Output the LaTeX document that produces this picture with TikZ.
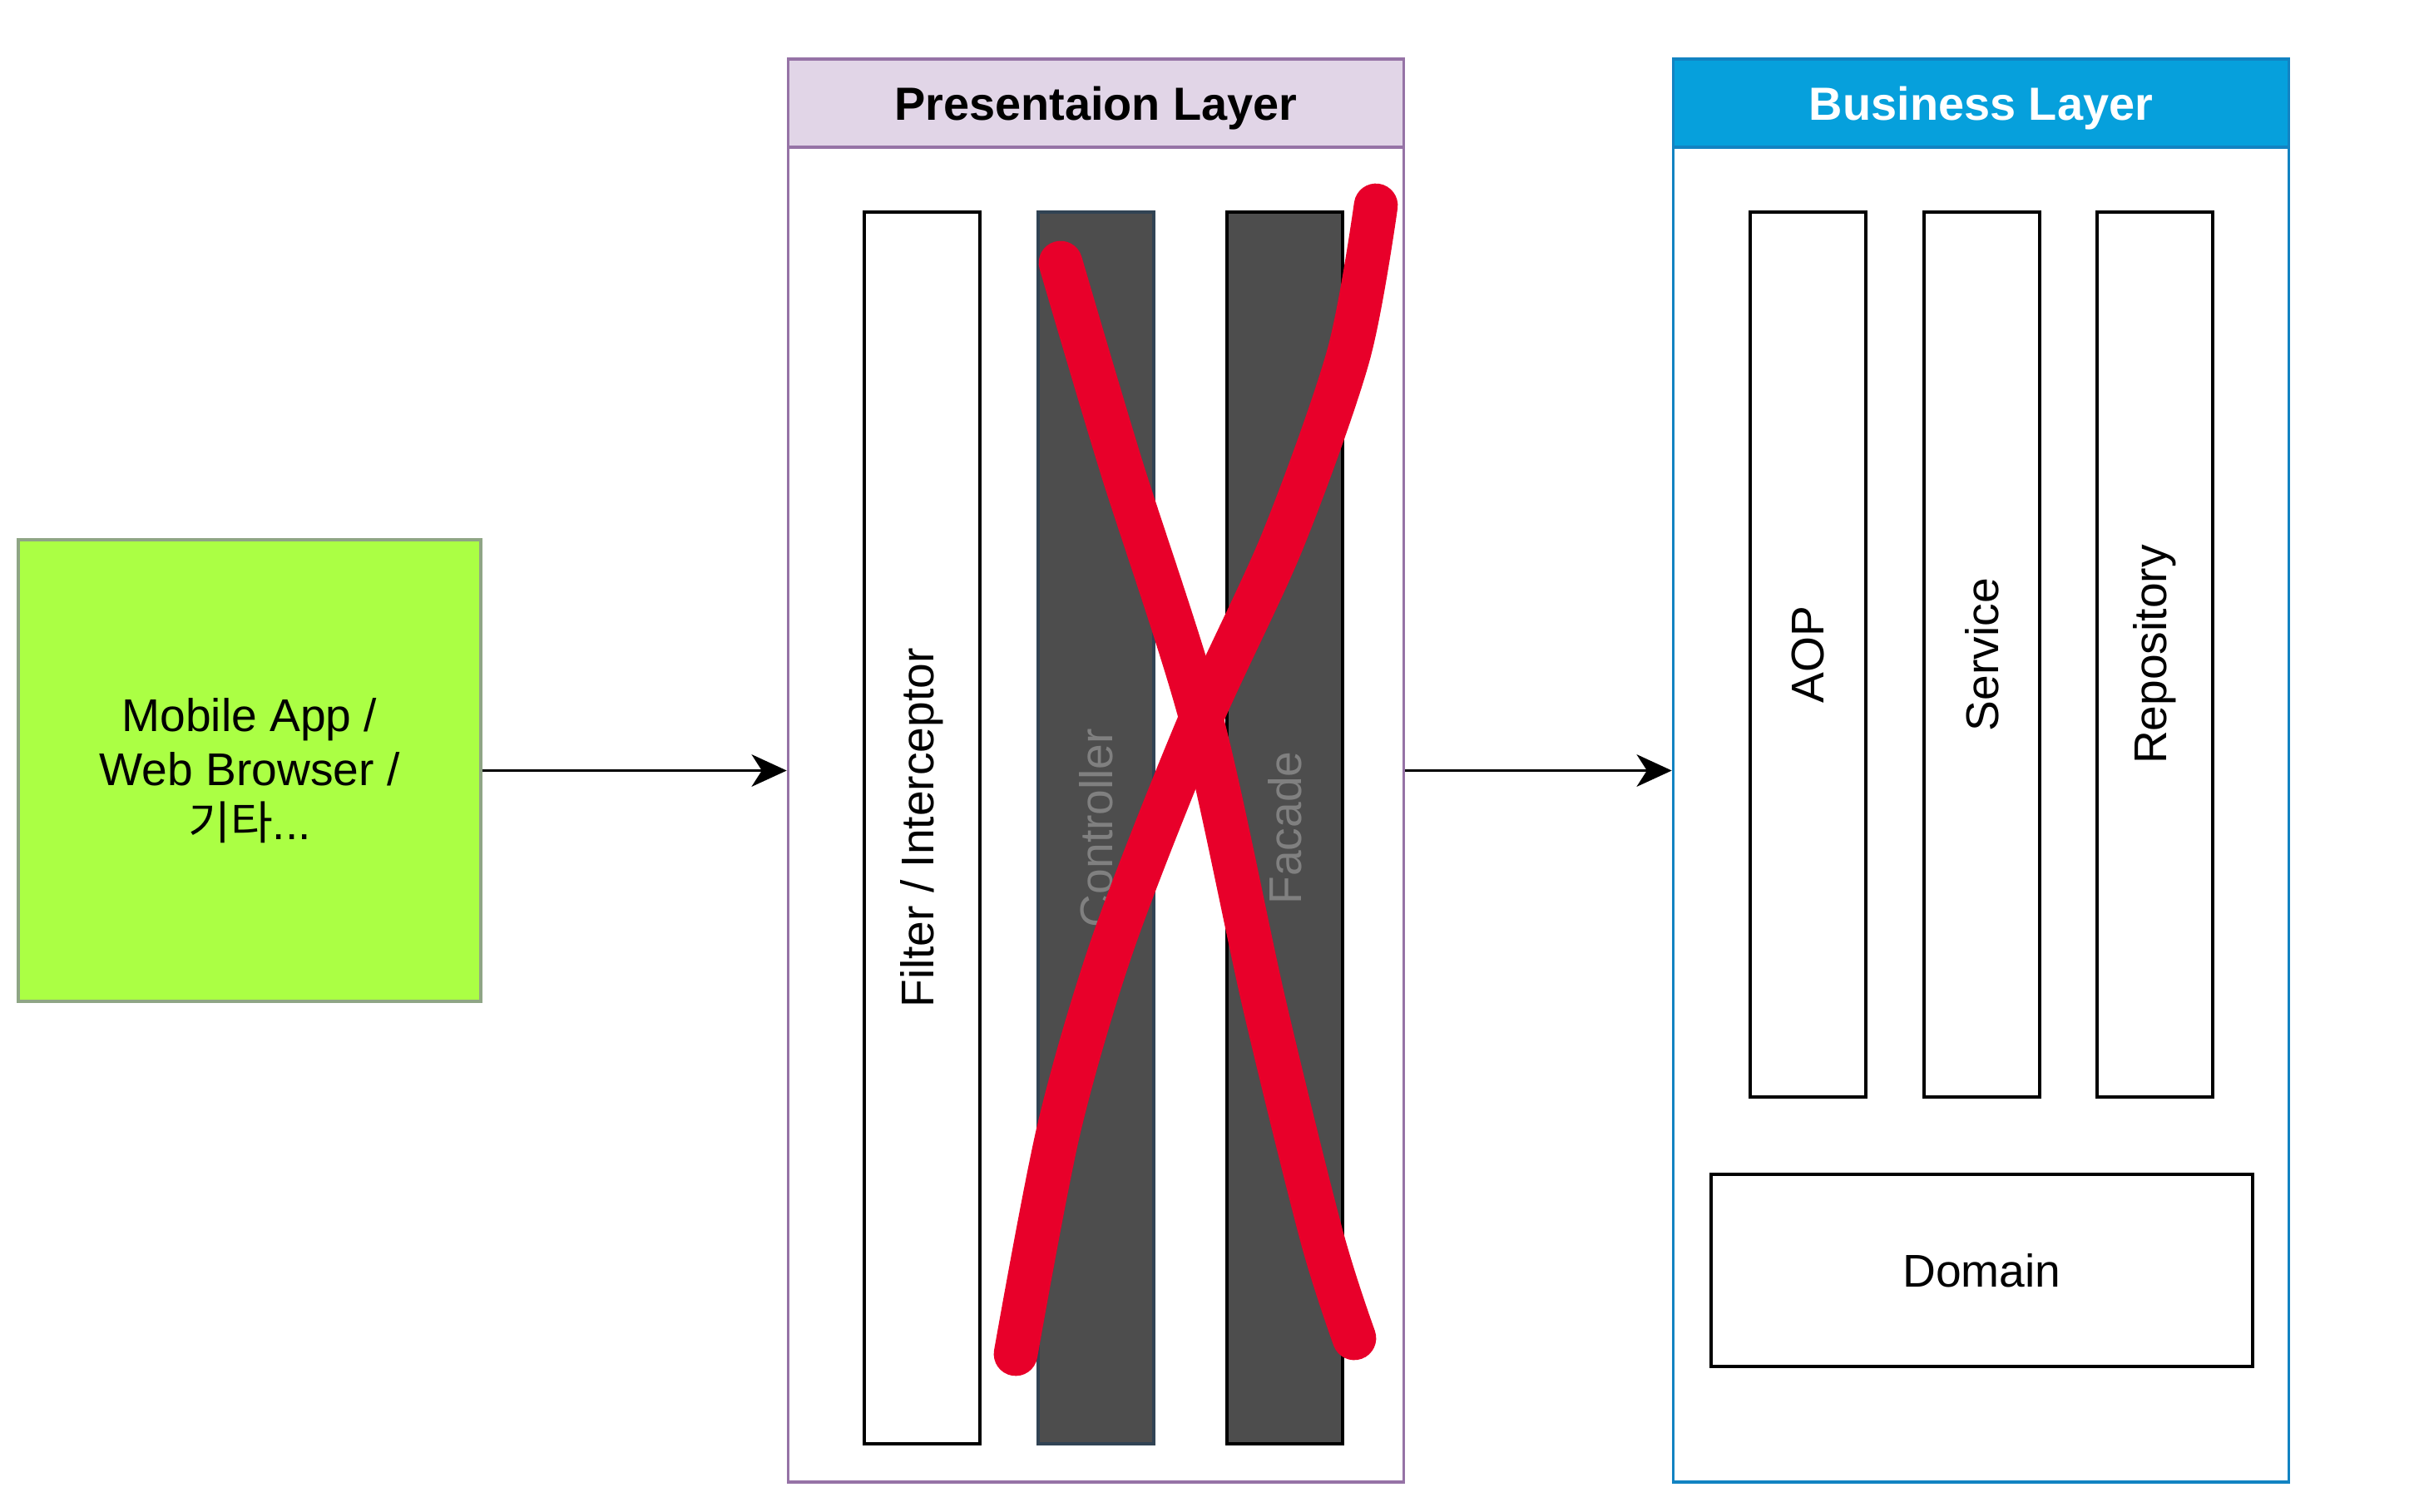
\documentclass[tikz,border=0pt]{standalone}
\usepackage{fontspec}
\setmainfont{Liberation Sans}
\newfontfamily\krfont{Noto Sans CJK KR}
\usetikzlibrary{arrows.meta,positioning}

\definecolor{presfill}{HTML}{E1D5E7}
\definecolor{presline}{HTML}{9673A6}
\definecolor{busfill}{HTML}{06A0DC}
\definecolor{busline}{HTML}{1283C2}
\definecolor{clientfill}{HTML}{ABFF44}
\definecolor{clientline}{HTML}{8FA585}
\definecolor{darkbar}{HTML}{4D4D4D}
\definecolor{ctrlline}{HTML}{314354}
\definecolor{fadedtext}{HTML}{808080}
\definecolor{crossred}{HTML}{E8002A}

\begin{document}
\begin{tikzpicture}[
        every node/.style={font=\fontsize{15.7pt}{18.5pt}\selectfont},
        layer/.style={rectangle, draw, line width=1pt, fill=white, minimum width=7.4cm, minimum height=17.11cm},
        layerhead/.style={rectangle, draw, line width=1pt, anchor=north, minimum width=7.4cm, minimum height=1.06cm, text height=14pt, text depth=2.6pt, font=\fontsize{15.9pt}{18.5pt}\selectfont\bfseries},
        bar/.style={rectangle, draw, line width=1pt, fill=white, rotate=90, minimum height=1.39cm, inner sep=0pt},
        darkbar/.style={bar, fill=darkbar, text=fadedtext},
        client/.style={rectangle, draw=clientline, line width=1pt, fill=clientfill, minimum width=5.56cm, minimum height=5.55cm, align=center},
        flow/.style={-{Stealth[length=12pt,width=11pt,inset=3.5pt]}, line width=1pt},
        cross/.style={crossred, line width=15pt, line cap=round, line join=round}]

        \useasboundingbox (0,0) rectangle (29.14,-18.18);

        % client
        \node[client] (client) at (3.00,-9.265) {Mobile App /\\Web Browser /\\{\krfont 기타}...};

        % presentation layer
        \node[layer, draw=presline] (pres) at (13.175,-9.265) {};
        \node[layerhead, fill=presfill, draw=presline] (preshead) at (pres.north) {Presentaion Layer};
        \node[bar, minimum width=14.81cm] (filter) at (11.085,-9.955) {Filter / Interceptor};
        \node[darkbar, draw=ctrlline, minimum width=14.81cm] (ctrl) at (13.175,-9.955) {Controller};
        \node[darkbar, draw=black, minimum width=14.81cm] (facade) at (15.445,-9.955) {Facade};

        % business layer
        \node[layer, draw=busline] (bus) at (23.815,-9.265) {};
        \node[layerhead, fill=busfill, draw=busline, text=white] (bushead) at (bus.north) {Business Layer};
        \node[bar, minimum width=10.64cm] (aop) at (21.735,-7.87) {AOP};
        \node[bar, minimum width=10.64cm] (service) at (23.825,-7.87) {Service};
        \node[bar, minimum width=10.64cm] (repo) at (25.905,-7.87) {Repository};
        \node[rectangle, draw, line width=1pt, minimum width=6.51cm, minimum height=2.31cm] (domain) at (23.825,-15.275) {Domain};

        \draw[flow] (client) -- (pres);
        \draw[flow] (pres) -- (bus);

        % crossed out
        \draw[cross] plot[smooth] coordinates {(12.75,-3.16) (13.47,-5.58) (14.44,-8.64) (15.20,-12.08) (15.89,-14.87) (16.28,-16.09)};
        \draw[cross] plot[smooth] coordinates {(16.54,-2.47) (16.21,-4.27) (15.42,-6.50) (14.40,-8.73) (13.38,-11.34) (12.73,-13.57) (12.21,-16.28)};
    \end{tikzpicture}
\end{document}
